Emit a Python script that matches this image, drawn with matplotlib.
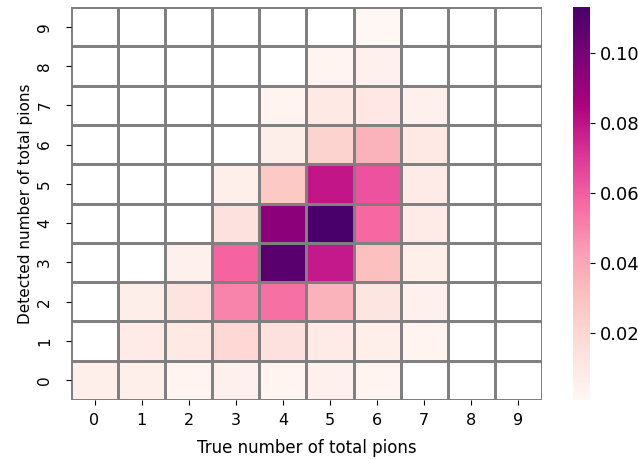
import numpy as np
import matplotlib
matplotlib.use("Agg")
import matplotlib.pyplot as plt

nan = np.nan

# fraction of events: rows = detected pions (0 at bottom), columns = true pions
true_labels = [str(i) for i in range(10)]
detected_labels = [str(i) for i in range(10)]

row0 = [0.006, 0.006, 0.003, 0.005, 0.003, 0.005, 0.003, nan, nan, nan]
row1 = [nan, 0.008, 0.010, 0.019, 0.015, 0.008, 0.006, 0.003, nan, nan]
row2 = [nan, 0.007, 0.013, 0.050, 0.055, 0.036, 0.012, 0.005, nan, nan]
row3 = [nan, nan, 0.005, 0.058, 0.108, 0.078, 0.031, 0.006, nan, nan]
row4 = [nan, nan, nan, 0.015, 0.094, 0.113, 0.057, 0.008, nan, nan]
row5 = [nan, nan, nan, 0.006, 0.027, 0.079, 0.063, 0.009, nan, nan]
row6 = [nan, nan, nan, nan, 0.007, 0.022, 0.036, 0.010, nan, nan]
row7 = [nan, nan, nan, nan, 0.003, 0.010, 0.011, 0.005, nan, nan]
row8 = [nan, nan, nan, nan, nan, 0.003, 0.005, nan, nan, nan]
row9 = [nan, nan, nan, nan, nan, nan, 0.001, nan, nan, nan]

matrix = np.array([row0, row1, row2, row3, row4, row5,
                   row6, row7, row8, row9])
masked = np.ma.masked_invalid(matrix)

fig = plt.figure(figsize=(6.38, 4.59), dpi=100)
ax = fig.add_axes([0.1113, 0.1285, 0.7382, 0.8562])
cax = fig.add_axes([0.898, 0.1285, 0.0266, 0.8562])

mesh = ax.pcolormesh(masked, cmap="RdPu",
                     vmin=np.nanmin(matrix), vmax=np.nanmax(matrix),
                     edgecolors="gray", linewidth=2)

ax.set_xlim(0, matrix.shape[1])
ax.set_ylim(0, matrix.shape[0])
ax.set_xticks(np.arange(matrix.shape[1]) + 0.5)
ax.set_xticklabels(true_labels, fontsize=11.5)
ax.set_yticks(np.arange(matrix.shape[0]) + 0.5)
ax.set_yticklabels(detected_labels, fontsize=11, rotation=90, va="center")
ax.tick_params(axis="x", pad=6)
ax.tick_params(axis="y", pad=10)
for s in ax.spines.values():
    s.set_visible(False)
ax.set_xlabel("True number of total pions", fontsize=12, labelpad=8)
ax.set_ylabel("Detected number of total pions", fontsize=11, labelpad=3)

cb = fig.colorbar(mesh, cax=cax)
cb.outline.set_visible(False)
cb.set_ticks([0.02, 0.04, 0.06, 0.08, 0.10])
cb.ax.tick_params(labelsize=13)

fig.savefig("out.png", dpi=100)
